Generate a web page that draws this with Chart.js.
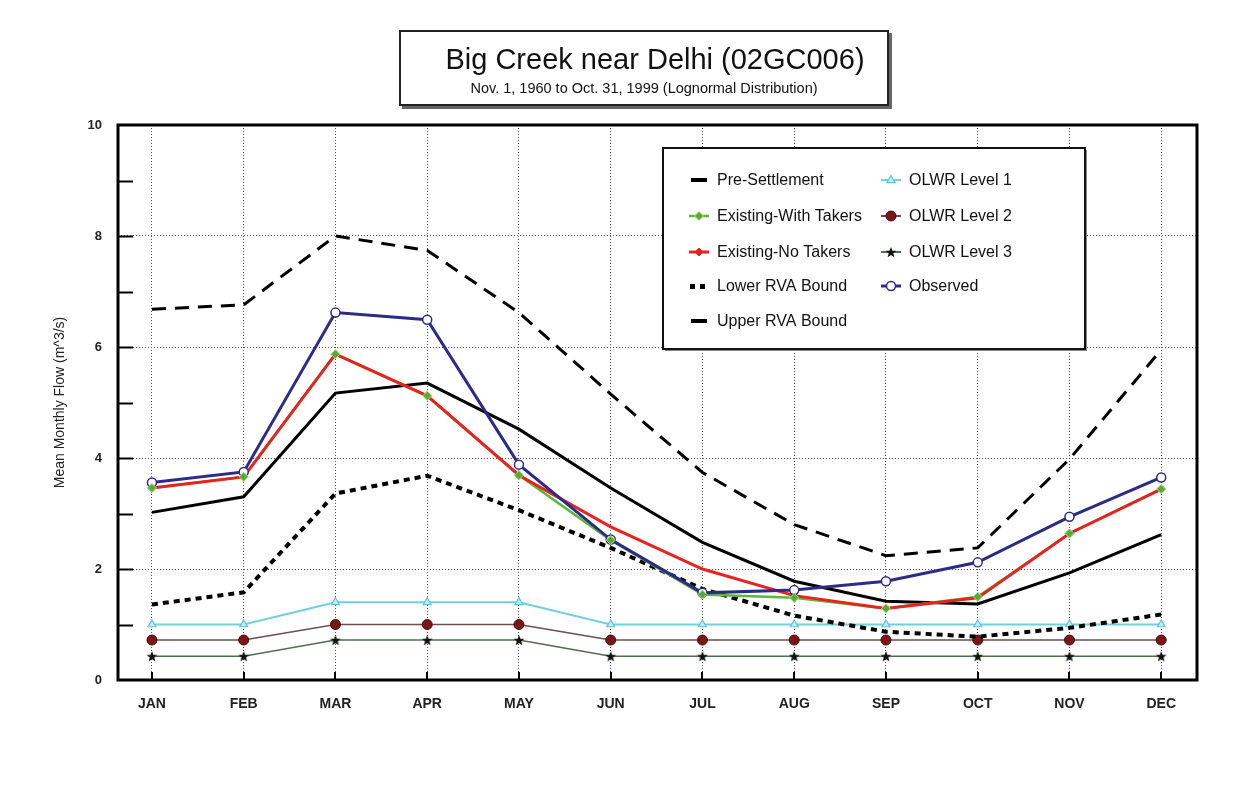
<!DOCTYPE html>
<html>
<head>
<meta charset="utf-8">
<title>Big Creek near Delhi (02GC006)</title>
<script src="https://cdn.jsdelivr.net/npm/chart.js"></script>
<style>
  html, body { margin: 0; padding: 0; background: #fff; }
  #wrap { position: relative; width: 1238px; height: 791px; }
  #titleBox {
    position: absolute; left: 399px; top: 30px; width: 486px; height: 72px;
    border: 2px solid #222; background: #fff; box-shadow: 3px 3px 0 #666;
    text-align: center; font-family: "Liberation Sans", Arial, sans-serif; color: #111; z-index: 2;
  }
  #titleBox .t { font-size: 29px; line-height: 32px; margin-top: 11px; padding-left: 22px; }
  #titleBox .s { font-size: 14.5px; line-height: 17px; margin-top: 5px; }
</style>
</head>
<body>
<div id="wrap">
  <div id="titleBox">
    <div class="t">Big Creek near Delhi (02GC006)</div>
    <div class="s">Nov. 1, 1960 to Oct. 31, 1999 (Lognormal Distribution)</div>
  </div>
  <canvas id="chart"></canvas>
</div>
<script>
// Months along the x axis
const months = ['JAN', 'FEB', 'MAR', 'APR', 'MAY', 'JUN', 'JUL', 'AUG', 'SEP', 'OCT', 'NOV', 'DEC'];

// Mean monthly flow, m^3/s
const preSettlement = [3.02, 3.30, 5.17, 5.35, 4.52, 3.46, 2.48, 1.78, 1.42, 1.37, 1.93, 2.62];
const withTakers    = [3.46, 3.66, 5.87, 5.12, 3.69, 2.52, 1.54, 1.48, 1.29, 1.50, 2.64, 3.44];
const noTakers      = [3.46, 3.66, 5.87, 5.12, 3.69, 2.76, 2.00, 1.52, 1.29, 1.48, 2.64, 3.44];
const lowerRVA      = [1.36, 1.58, 3.36, 3.68, 3.06, 2.38, 1.64, 1.16, 0.87, 0.78, 0.94, 1.18];
const upperRVA      = [6.68, 6.76, 8.00, 7.74, 6.62, 5.15, 3.74, 2.80, 2.24, 2.38, 3.98, 5.95];
const observed      = [3.56, 3.75, 6.62, 6.49, 3.88, 2.53, 1.57, 1.62, 1.78, 2.12, 2.94, 3.65];
const olwr1         = [1.00, 1.00, 1.40, 1.40, 1.40, 1.00, 1.00, 1.00, 1.00, 1.00, 1.00, 1.00];
const olwr2         = [0.72, 0.72, 1.00, 1.00, 1.00, 0.72, 0.72, 0.72, 0.72, 0.72, 0.72, 0.72];
const olwr3         = [0.43, 0.43, 0.72, 0.72, 0.72, 0.43, 0.43, 0.43, 0.43, 0.43, 0.43, 0.43];

// Y axis ticks
const yTicks = [0, 2, 4, 6, 8, 10];

const FONT = '"Liberation Sans", Arial, sans-serif';

// Filled five-point star used as a point marker
function makeStar(size, color) {
  const c = document.createElement('canvas');
  c.width = size; c.height = size;
  const g = c.getContext('2d');
  const cx = size / 2, cy = size / 2 + 0.6, R = size / 2 - 0.3, r = R * 0.42;
  g.beginPath();
  for (let i = 0; i < 10; i++) {
    const a = -Math.PI / 2 + i * Math.PI / 5;
    const rr = i % 2 ? r : R;
    g.lineTo(cx + rr * Math.cos(a), cy + rr * Math.sin(a));
  }
  g.closePath();
  g.fillStyle = color; g.fill();
  return c;
}
const starMarker = makeStar(12, '#111');

const pts = arr => arr.map((v, i) => ({ x: i, y: v }));

const GREEN_MARK = { pointStyle: 'rectRot', pointRadius: 4.5, pointBackgroundColor: '#5aa83c', pointBorderColor: '#a8e07a', pointBorderWidth: 1 };

const datasets = [
  // diamonds of the with-takers series, kept above every line
  Object.assign({ label: 'Existing-With Takers (points)', data: pts(withTakers), showLine: false, order: 0 }, GREEN_MARK),
  { label: 'Observed', data: pts(observed), borderColor: '#2c2c88', borderWidth: 3,
    pointStyle: 'circle', pointRadius: 4.5, pointBackgroundColor: '#fff', pointBorderColor: '#2c2c88', pointBorderWidth: 1.5, order: 1 },
  { label: 'Existing-No Takers', data: pts(noTakers), borderColor: '#e8231f', borderWidth: 3,
    pointStyle: 'rectRot', pointRadius: 0, pointBackgroundColor: '#e8231f', pointBorderColor: '#e8231f', pointBorderWidth: 1,
    legendRadius: 4, order: 2 },
  Object.assign({ label: 'Existing-With Takers', data: pts(withTakers), borderColor: '#5cb83a', borderWidth: 2.5, order: 3 }, GREEN_MARK),
  { label: 'Pre-Settlement', data: pts(preSettlement), borderColor: '#000', borderWidth: 3,
    pointRadius: 0, order: 4 },
  { label: 'Lower RVA Bound', data: pts(lowerRVA), borderColor: '#000', borderWidth: 4, borderDash: [6, 5],
    pointRadius: 0, order: 5 },
  { label: 'Upper RVA Bound', data: pts(upperRVA), borderColor: '#000', borderWidth: 3, borderDash: [14, 9],
    pointRadius: 0, order: 6 },
  { label: 'OLWR Level 1', data: pts(olwr1), borderColor: '#6fd0de', borderWidth: 2,
    pointStyle: 'triangle', pointRadius: 4.5, pointBackgroundColor: '#bfeef4', pointBorderColor: '#5cc4d6', pointBorderWidth: 1.2, order: 7 },
  { label: 'OLWR Level 2', data: pts(olwr2), borderColor: '#6e4e4e', borderWidth: 1.5,
    pointStyle: 'circle', pointRadius: 5, pointBackgroundColor: '#7b1518', pointBorderColor: '#4a0c0c', pointBorderWidth: 1, order: 8 },
  { label: 'OLWR Level 3', data: pts(olwr3), borderColor: '#4f6f4f', borderWidth: 1.5,
    pointStyle: starMarker, pointRadius: 6, order: 9 }
];
datasets.forEach(d => { d.tension = 0; d.fill = false; d.borderCapStyle = 'butt'; d.borderJoinStyle = 'miter'; });

// Legend layout: two columns inside a framed box
const legendColumns = [
  ['Pre-Settlement', 'Existing-With Takers', 'Existing-No Takers', 'Lower RVA Bound', 'Upper RVA Bound'],
  ['OLWR Level 1', 'OLWR Level 2', 'OLWR Level 3', 'Observed']
];

function drawMarker(ctx, ds, x, y, r) {
  const st = ds.pointStyle;
  if (!r) return;
  ctx.save();
  if (st instanceof HTMLCanvasElement) {
    ctx.drawImage(st, x - st.width / 2, y - st.height / 2);
    ctx.restore();
    return;
  }
  ctx.fillStyle = ds.pointBackgroundColor;
  ctx.strokeStyle = ds.pointBorderColor;
  ctx.lineWidth = ds.pointBorderWidth || 1;
  ctx.setLineDash([]);
  ctx.beginPath();
  if (st === 'rectRot') {
    ctx.moveTo(x, y - r); ctx.lineTo(x + r, y); ctx.lineTo(x, y + r); ctx.lineTo(x - r, y); ctx.closePath();
  } else if (st === 'triangle') {
    ctx.moveTo(x, y - r); ctx.lineTo(x + r * 0.95, y + r * 0.6); ctx.lineTo(x - r * 0.95, y + r * 0.6); ctx.closePath();
  } else {
    ctx.arc(x, y, r, 0, Math.PI * 2);
  }
  ctx.fill(); ctx.stroke();
  ctx.restore();
}

const framePlugin = {
  id: 'frameAndLegend',
  afterDatasetsDraw(chart) {
    const { ctx, chartArea: a, scales } = chart;
    const ys = scales.y, xs = scales.x;
    ctx.save();
    // inward tick marks on the left axis
    ctx.strokeStyle = '#000'; ctx.lineWidth = 2; ctx.setLineDash([]);
    for (let v = 1; v < 10; v++) {
      const py = Math.round(ys.getPixelForValue(v)) + 0.5;
      ctx.beginPath(); ctx.moveTo(a.left, py); ctx.lineTo(a.left + 15, py); ctx.stroke();
    }
    // inward tick marks on the bottom axis
    months.forEach((m, i) => {
      const px = Math.round(xs.getPixelForValue(i));
      ctx.beginPath(); ctx.moveTo(px, a.bottom); ctx.lineTo(px, a.bottom - 8); ctx.stroke();
    });
    // plot frame
    ctx.lineWidth = 3;
    ctx.strokeRect(a.left, a.top, a.right - a.left, a.bottom - a.top);

    // legend box
    const bx = 663, by = 148, bw = 422, bh = 201;
    ctx.fillStyle = '#888';
    ctx.fillRect(bx + 2, by + 2, bw, bh);
    ctx.fillStyle = '#fff';
    ctx.fillRect(bx, by, bw, bh);
    ctx.lineWidth = 2; ctx.strokeStyle = '#111';
    ctx.strokeRect(bx, by, bw, bh);

    const colX = [699, 891];
    const rowY = [180, 216, 252, 286, 321];
    ctx.font = '16px ' + FONT;
    ctx.textBaseline = 'middle';
    legendColumns.forEach((col, ci) => {
      col.forEach((label, ri) => {
        const ds = chart.data.datasets.find(d => d.label === label);
        const cx = colX[ci], cy = rowY[ri];
        ctx.save();
        ctx.strokeStyle = ds.borderColor;
        if (label === 'Lower RVA Bound') {
          ctx.fillStyle = '#000';
          ctx.fillRect(cx - 9, cy - 2, 5, 5);
          ctx.fillRect(cx + 1, cy - 2, 5, 5);
        } else if (label === 'Upper RVA Bound' || label === 'Pre-Settlement') {
          ctx.fillStyle = '#000';
          ctx.fillRect(cx - 8, cy - 2, 16, 4);
        } else {
          ctx.lineWidth = Math.max(2, ds.borderWidth);
          ctx.beginPath(); ctx.moveTo(cx - 10, cy); ctx.lineTo(cx + 10, cy); ctx.stroke();
          drawMarker(ctx, ds, cx, cy, ds.legendRadius || Math.min(ds.pointRadius, 5));
        }
        ctx.restore();
        ctx.fillStyle = '#111';
        ctx.fillText(label, cx + 18, cy + 1);
      });
    });
    ctx.restore();
  }
};

new Chart(document.getElementById('chart'), {
  type: 'line',
  data: { datasets },
  plugins: [framePlugin],
  options: {
    responsive: true,
    maintainAspectRatio: false,
    animation: false,
    layout: { padding: { left: 50, right: 41, top: 125, bottom: 0 } },
    plugins: { legend: { display: false }, title: { display: false }, tooltip: { enabled: false } },
    scales: {
      x: {
        type: 'linear', min: -0.37, max: 11.39,
        afterFit: s => { s.height = 111; },
        afterBuildTicks: s => { s.ticks = months.map((m, i) => ({ value: i })); },
        ticks: {
          autoSkip: false, maxRotation: 0, padding: 16, color: '#222',
          font: { family: FONT, size: 14, weight: 'bold' },
          callback: v => months[v]
        },
        grid: { drawTicks: false, color: '#555', lineWidth: 1 },
        border: { display: false, dash: [1, 2] }
      },
      y: {
        type: 'linear', min: 0, max: 10,
        afterFit: s => { s.width = 68; },
        afterBuildTicks: s => { s.ticks = yTicks.map(v => ({ value: v })); },
        ticks: {
          autoSkip: false, padding: 16, color: '#222',
          font: { family: FONT, size: 13, weight: 'bold' },
          callback: v => String(v)
        },
        grid: {
          drawTicks: false, lineWidth: 1,
          color: c => (c.tick && c.tick.value > 0 && c.tick.value < 10) ? '#555' : 'rgba(0,0,0,0)'
        },
        border: { display: false, dash: [1, 2] },
        title: { display: true, text: 'Mean Monthly Flow (m^3/s)', color: '#222', font: { family: FONT, size: 14 }, padding: { top: 2, bottom: 4 } }
      }
    }
  }
});
</script>
</body>
</html>
